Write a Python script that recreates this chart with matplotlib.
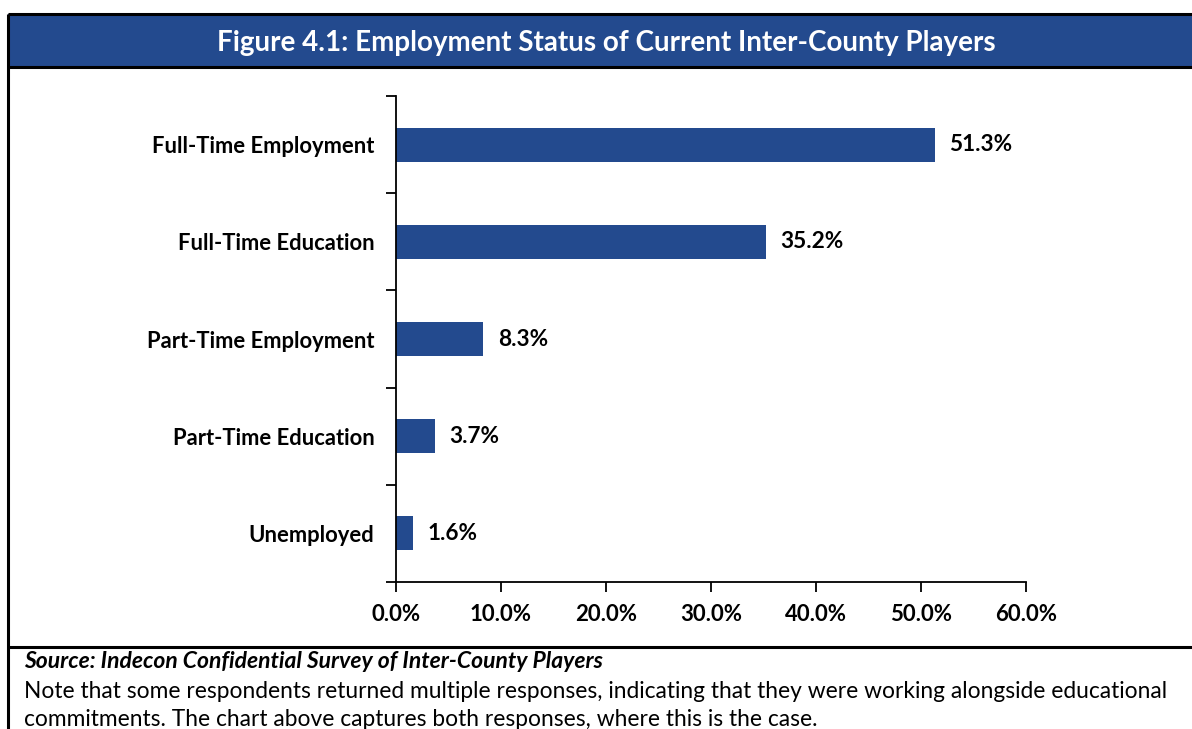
import matplotlib
matplotlib.use("Agg")
import matplotlib.pyplot as plt
from matplotlib.lines import Line2D
from matplotlib.patches import Rectangle

categories = ["Full-Time Employment", "Full-Time Education", "Part-Time Employment",
              "Part-Time Education", "Unemployed"]
shares = [51.3, 35.2, 8.3, 3.7, 1.6]
x_ticks = [0, 10, 20, 30, 40, 50, 60]

title = "Figure 4.1: Employment Status of Current Inter-County Players"
source = "Source: Indecon Confidential Survey of Inter-County Players"
note_1 = ("Note that some respondents returned multiple responses, indicating that they were "
          "working alongside educational")
note_2 = "commitments. The chart above captures both responses, where this is the case."

BLUE = "#234A8E"
FONT = "Lato"
W, H = 1192, 729

plt.rcParams["font.family"] = [FONT, "DejaVu Sans"]
fig = plt.figure(figsize=(W / 100, H / 100), dpi=100)


def fx(px):
    return px / W


def fy(py):
    return 1 - py / H


# Frame: title band, outer rules
fig.patches.append(Rectangle((fx(8), fy(67)), fx(1192 - 8), fy(14) - fy(67),
                             transform=fig.transFigure, facecolor=BLUE, edgecolor="none"))
for (x0, y0, x1, y1) in [(8, 14, 1192, 14), (8, 67, 1192, 67), (8, 14, 8, 729),
                         (8, 647, 1192, 647)]:
    fig.add_artist(Line2D([fx(x0), fx(x1)], [fy(y0), fy(y1)], transform=fig.transFigure,
                          color="black", lw=2.2, solid_capstyle="butt"))

fig.text(fx(606), fy(43), title, ha="center", va="center", color="white",
         fontsize=20, fontweight="bold")

# Bar chart
ax = fig.add_axes([fx(396), fy(582), fx(1026) - fx(396), fy(96) - fy(582)])
ypos = list(range(len(categories)))
ax.barh(ypos, shares, height=0.35, color=BLUE)
ax.set_ylim(len(categories) - 0.5, -0.5)
ax.set_xlim(0, 60)

ax.set_yticks([i - 0.5 for i in range(len(categories) + 1)])
ax.set_yticklabels([])
ax.set_yticks(ypos, minor=True)
ax.set_yticklabels(categories, minor=True, fontsize=15.8, fontweight="bold")
ax.tick_params(axis="y", which="major", direction="out", length=7, width=1.3)
ax.tick_params(axis="y", which="minor", length=0, pad=15.5)

ax.set_xticks(x_ticks)
ax.set_xticklabels([f"{v:.1f}%" for v in x_ticks], fontsize=16, fontweight="bold")
ax.tick_params(axis="x", direction="out", length=7, width=1.3, pad=9)

for side in ("top", "right"):
    ax.spines[side].set_visible(False)
for side in ("left", "bottom"):
    ax.spines[side].set_linewidth(1.3)

for y, v in zip(ypos, shares):
    ax.text(v + 1.4, y, f"{v:.1f}%", va="center", ha="left", fontsize=16.3,
            fontweight="bold")

# Footnotes
fig.text(fx(24), fy(662), source, ha="left", va="center", fontsize=16.5,
         fontweight="bold", fontstyle="italic")
fig.text(fx(24), fy(692), note_1, ha="left", va="center", fontsize=16.4)
fig.text(fx(24), fy(720), note_2, ha="left", va="center", fontsize=16.4)

fig.savefig("out.png", dpi=100)
